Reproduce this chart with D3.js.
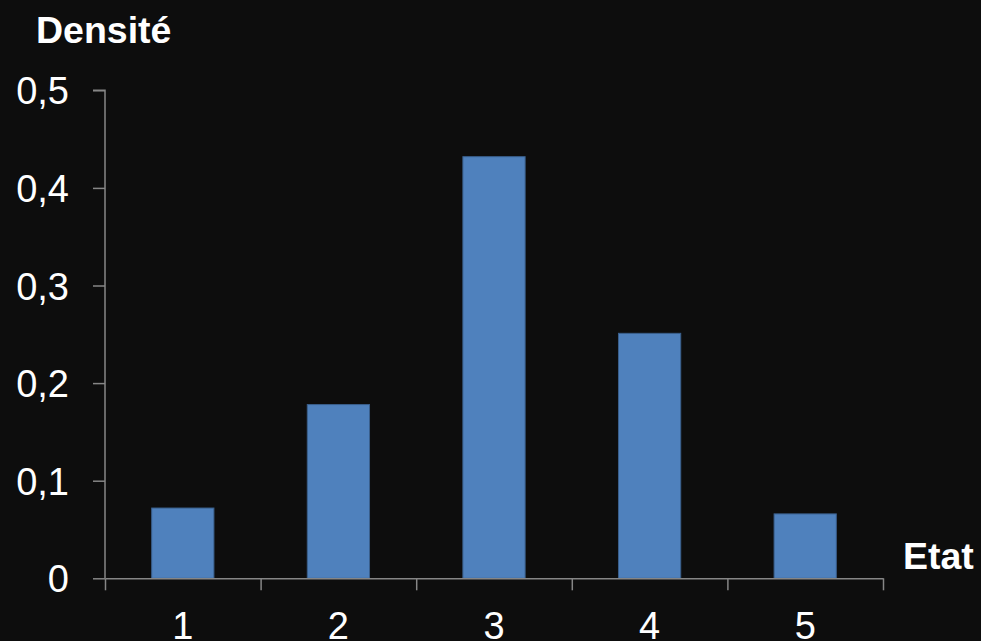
<!DOCTYPE html>
<html>
<head>
<meta charset="utf-8">
<script src="https://cdn.jsdelivr.net/npm/d3@7"></script>
<style>
  html, body { margin: 0; padding: 0; background: #0d0d0d; }
  svg { display: block; }
</style>
</head>
<body>
<svg id="chart" width="981" height="641"></svg>
<script>
const categories = ["1", "2", "3", "4", "5"];
const densities = [0.072, 0.178, 0.432, 0.251, 0.066];
const yTicks = [0, 0.1, 0.2, 0.3, 0.4, 0.5];
const yAxisTitle = "Densité";
const xAxisTitle = "Etat";

(function () {
const W = 981, H = 641;
const mLeft = 105, mRight = 883, mTop = 90.3, mBottom = 578.3;
const font = "'Liberation Sans', Arial, sans-serif";
const axisColor = "#868686";

const svg = d3.select("#chart");
svg.append("rect").attr("width", W).attr("height", H).attr("fill", "#0d0d0d");

const xGrid = d3.scaleBand().domain(categories).range([mLeft, mRight]).padding(0);
const xBar = d3.scaleBand().domain(categories).range([mLeft, mRight])
  .paddingInner(0.6).paddingOuter(0.3);
const y = d3.scaleLinear().domain([0, 0.5]).range([mBottom, mTop]);

const fr = d3.formatLocale({decimal: ",", thousands: " ", grouping: [3], currency: ["", "€"]});
const fmt = v => v === 0 ? "0" : fr.format(".1f")(v);

// bars
svg.append("g").selectAll("rect").data(densities).join("rect")
  .attr("x", (d, i) => xBar(categories[i]))
  .attr("width", xBar.bandwidth())
  .attr("y", d => y(d))
  .attr("height", d => y(0) - y(d))
  .attr("fill", "#4f81bd")
  .attr("stroke", "#3a5f8c")
  .attr("stroke-width", 1);

// y axis
const yAxis = svg.append("g").attr("transform", `translate(${mLeft},0)`)
  .call(d3.axisLeft(y).tickValues(yTicks).tickFormat(fmt).tickSize(12).tickPadding(24));
yAxis.select(".domain").attr("stroke", axisColor).attr("stroke-width", 1.5)
  .attr("d", `M-12,${mTop}H0V${mBottom}`);
yAxis.selectAll(".tick line").attr("stroke", axisColor).attr("stroke-width", 1.5);
yAxis.selectAll(".tick text").attr("fill", "#ffffff").attr("font-family", font)
  .attr("font-size", 38).attr("dy", "0.36em");

// x axis: ticks at category boundaries
const boundaries = categories.map(c => xGrid(c)).concat([mRight]);
const xPos = d3.scaleLinear().domain([mLeft, mRight]).range([mLeft, mRight]);
const xAxis = svg.append("g").attr("transform", `translate(0,${mBottom})`)
  .call(d3.axisBottom(xPos).tickValues(boundaries).tickFormat("").tickSize(12).tickSizeOuter(0));
xAxis.select(".domain").attr("stroke", axisColor).attr("stroke-width", 1.5);
xAxis.selectAll(".tick line").attr("stroke", axisColor).attr("stroke-width", 1.5);

// x category labels
svg.append("g").selectAll("text").data(categories).join("text")
  .attr("x", c => xGrid(c) + xGrid.bandwidth() / 2)
  .attr("y", 639)
  .attr("text-anchor", "middle")
  .attr("fill", "#ffffff")
  .attr("font-family", font)
  .attr("font-size", 38)
  .text(c => c);

// axis titles
svg.append("text").attr("x", 36).attr("y", 42.5)
  .attr("fill", "#ffffff").attr("font-family", font).attr("font-weight", "bold")
  .attr("font-size", 37.5).text(yAxisTitle);
svg.append("text").attr("x", 903).attr("y", 568.5)
  .attr("fill", "#ffffff").attr("font-family", font).attr("font-weight", "bold")
  .attr("font-size", 37.5).text(xAxisTitle);
})();
</script>
</body>
</html>
